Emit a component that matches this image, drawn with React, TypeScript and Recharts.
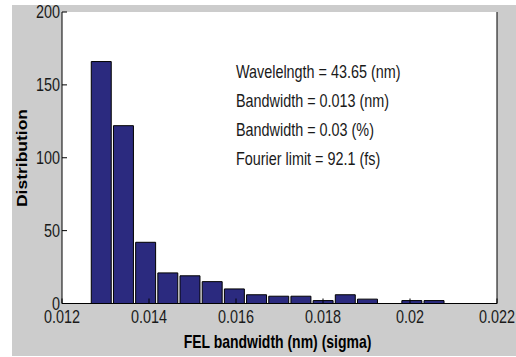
import React from "react";
import { BarChart, Bar, XAxis, YAxis, CartesianGrid } from "recharts";

// histogram bins (centre of each bin, nm) and counts
const binCenters = [
  0.012905, 0.013415, 0.013925, 0.014435, 0.014945, 0.015455, 0.015965, 0.016475,
  0.016985, 0.017495, 0.018005, 0.018515, 0.019025, 0.019535, 0.020045, 0.020555,
];
const counts = [166, 122, 42, 21, 19, 15, 10, 6, 5, 5, 2, 6, 3, 0, 2, 2];
const binWidth = 0.00051;

const xTicks = [0.012, 0.014, 0.016, 0.018, 0.02, 0.022];
const yTicks = [0, 50, 100, 150, 200];
const xDomain = [0.012, 0.022];
const yDomain = [0, 200];

const notes = [
  "Wavelelngth = 43.65 (nm)",
  "Bandwidth = 0.013 (nm)",
  "Bandwidth = 0.03 (%)",
  "Fourier limit = 92.1 (fs)",
];

const data = binCenters.map((x, i) => ({ x, count: counts[i] }));

const FONT = "'Liberation Sans', Arial, Helvetica, sans-serif";
const SQUEEZE = 0.8; // the original figure is squashed horizontally

const W = 504;
const H = 351;
const plotLeft = 50;
const plotRight = 19;
const plotW = W - plotLeft - plotRight;
const barPx = (plotW * binWidth) / (xDomain[1] - xDomain[0]);

function XTick(props: any) {
  const { x, y, payload } = props;
  return (
    <text
      transform={`translate(${x},${y}) scale(${SQUEEZE},1)`}
      textAnchor="middle"
      dy="0.71em"
      fontSize={18}
      fontFamily={FONT}
      fill="#1a1a1a"
    >
      {String(payload.value)}
    </text>
  );
}

function YTick(props: any) {
  const { x, y, payload } = props;
  return (
    <text
      transform={`translate(${x},${y}) scale(${SQUEEZE},1)`}
      textAnchor="end"
      dy="0.36em"
      fontSize={18}
      fontFamily={FONT}
      fill="#1a1a1a"
    >
      {String(payload.value)}
    </text>
  );
}

export default function App() {
  return (
    <>
      <style>{`body{margin:0}`}</style>
      <div
        style={{
          position: "absolute",
          left: 12,
          top: 5,
          width: W,
          height: H,
          background: "#cccccc",
        }}
      >
        <BarChart
          width={W}
          height={H}
          data={data}
          margin={{ top: 7, right: 0, bottom: 0, left: 0 }}
          barGap={0}
        >
          <CartesianGrid horizontal={false} vertical={false} fill="#ffffff" />
          <XAxis
            dataKey="x"
            type="number"
            domain={xDomain}
            ticks={xTicks}
            allowDataOverflow
            height={52.5}
            axisLine={{ stroke: "#000" }}
            tickLine={{ stroke: "#000" }}
            tickSize={-5}
            tickMargin={12}
            tick={<XTick />}
            interval={0}
          />
          <XAxis
            xAxisId="top"
            orientation="top"
            type="number"
            domain={xDomain}
            ticks={xTicks}
            allowDataOverflow
            height={0}
            axisLine={{ stroke: "#000" }}
            tickLine={{ stroke: "#000" }}
            tickSize={-5}
            tick={false}
            interval={0}
          />
          <YAxis
            type="number"
            domain={yDomain}
            ticks={yTicks}
            allowDataOverflow
            width={plotLeft}
            axisLine={{ stroke: "#000" }}
            tickLine={{ stroke: "#000" }}
            tickSize={-5}
            tickMargin={7}
            tick={<YTick />}
            interval={0}
          />
          <YAxis
            yAxisId="right"
            orientation="right"
            type="number"
            domain={yDomain}
            ticks={yTicks}
            allowDataOverflow
            width={plotRight}
            axisLine={{ stroke: "#000" }}
            tickLine={{ stroke: "#000" }}
            tickSize={-5}
            tick={false}
            interval={0}
          />
          <Bar
            dataKey="count"
            fill="#2b2a7f"
            stroke="#000"
            strokeWidth={1}
            barSize={barPx}
            isAnimationActive={false}
          />
        </BarChart>
        <svg
          width={W}
          height={H}
          style={{ position: "absolute", left: 0, top: 0, pointerEvents: "none" }}
        >
          {notes.map((t, i) => (
            <text
              key={t}
              transform={`translate(224,${73 + i * 29}) scale(${SQUEEZE},1)`}
              fontSize={18}
              fontFamily={FONT}
              fill="#1a1a1a"
            >
              {t}
            </text>
          ))}
          <text
            transform={`translate(265.5,343) scale(${SQUEEZE},1)`}
            textAnchor="middle"
            fontSize={17.5}
            fontWeight="bold"
            fontFamily={FONT}
            fill="#000"
          >
            FEL bandwidth (nm) (sigma)
          </text>
          <text
            transform={`translate(15,153) scale(${SQUEEZE},1) rotate(-90)`}
            textAnchor="middle"
            fontSize={17.5}
            fontWeight="bold"
            fontFamily={FONT}
            fill="#000"
          >
            Distribution
          </text>
        </svg>
      </div>
    </>
  );
}
